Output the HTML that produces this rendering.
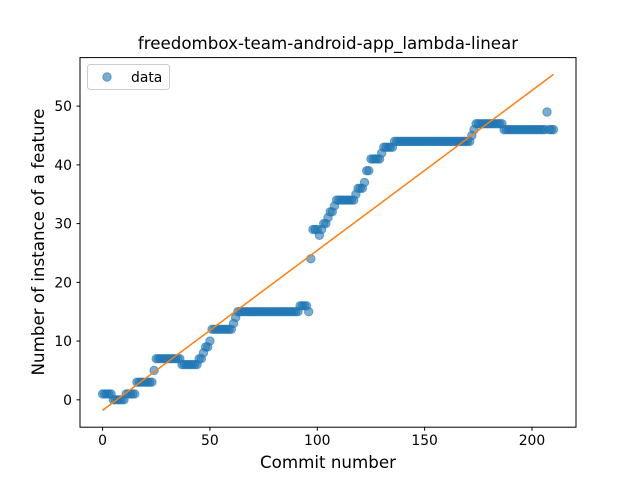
<!DOCTYPE html>
<html><head><meta charset="utf-8"><style>
body{margin:0;background:#fff;}
svg{display:block;font-family:"DejaVu Sans","Liberation Sans",sans-serif;}
</style></head><body>
<svg id="chart" width="640" height="480" xmlns="http://www.w3.org/2000/svg">
<rect width="640" height="480" fill="#fff"/>
<text x="328" y="49" font-size="16.7" text-anchor="middle">freedombox-team-android-app_lambda-linear</text>
<g id="marks"></g>
<rect x="80" y="57.6" width="496" height="369.6" fill="none" stroke="#000" stroke-width="1"/>
<g id="xticks"></g>
<g id="yticks"></g>
<text x="328" y="468" font-size="16.7" text-anchor="middle">Commit number</text>
<text transform="translate(44,242) rotate(-90)" font-size="16.7" text-anchor="middle">Number of instance of a feature</text>
<g>
<rect x="87.5" y="64.5" width="82" height="25" rx="3" fill="#fff" fill-opacity="0.8" stroke="#ccc"/>
<circle cx="107" cy="77" r="4.2" fill="#1f77b4" fill-opacity="0.6" stroke="#1f77b4" stroke-opacity="0.6"/>
<text x="131" y="82" font-size="13.9">data</text>
</g>
</svg>
<script>
const xTicks=[0,50,100,150,200];
const yTicks=[0,10,20,30,40,50];
const steps=[[0,1],[5,0],[11,1],[16,3],[24,5],[25,7],[37,6],[45,7],[47,8],[48,9],[50,10],[51,12],[61,13],[62,14],[63,15],[92,16],[96,15],[97,24],[98,29],[101,28],[102,29],[103,30],[105,31],[106,32],[108,33],[109,34],[118,35],[119,36],[122,37],[123,39],[125,41],[130,42],[131,43],[136,44],[172,45],[173,46],[174,47],[187,46],[207,49],[208,46]];
const yValues=[];
for(let i=0;i<=210;i++){let v=0;for(const s of steps){if(i>=s[0])v=s[1];}yValues.push(v);}
const fitStart=-1.8, fitEnd=55.4;
const X0=-10.5,X1=220.5,Y0=-4.66,Y1=58.26;
function sx(v){return 80+(v-X0)/(X1-X0)*496;}
function sy(v){return 427.2-(v-Y0)/(Y1-Y0)*369.6;}
const NS="http://www.w3.org/2000/svg";
const marks=document.getElementById('marks');
yValues.forEach((v,i)=>{
 const c=document.createElementNS(NS,'circle');
 c.setAttribute('cx',sx(i));c.setAttribute('cy',sy(v));c.setAttribute('r',4.2);
 c.setAttribute('fill','#1f77b4');c.setAttribute('fill-opacity','0.6');
 c.setAttribute('stroke','#1f77b4');c.setAttribute('stroke-opacity','0.6');
 
 
 marks.appendChild(c);
});
const ln=document.createElementNS(NS,'line');
ln.setAttribute('x1',sx(0));ln.setAttribute('y1',sy(fitStart));
ln.setAttribute('x2',sx(210));ln.setAttribute('y2',sy(fitEnd));
ln.setAttribute('stroke','#ff7f0e');ln.setAttribute('stroke-width','1.5');


marks.appendChild(ln);
const xg=document.getElementById('xticks');
xTicks.forEach(t=>{
 const l=document.createElementNS(NS,'line');
 l.setAttribute('x1',sx(t));l.setAttribute('x2',sx(t));l.setAttribute('y1',427.2);l.setAttribute('y2',430.7);l.setAttribute('stroke','#000');
 
 
 xg.appendChild(l);
 const tx=document.createElementNS(NS,'text');
 tx.setAttribute('x',sx(t));tx.setAttribute('y',445);tx.setAttribute('font-size','13.9');tx.setAttribute('text-anchor','middle');
 tx.textContent=t;
 
 
 xg.appendChild(tx);
});
const yg=document.getElementById('yticks');
yTicks.forEach(t=>{
 const l=document.createElementNS(NS,'line');
 l.setAttribute('x1',76.5);l.setAttribute('x2',80);l.setAttribute('y1',sy(t));l.setAttribute('y2',sy(t));l.setAttribute('stroke','#000');
 
 
 yg.appendChild(l);
 const tx=document.createElementNS(NS,'text');
 tx.setAttribute('x',72);tx.setAttribute('y',sy(t)+5);tx.setAttribute('font-size','13.9');tx.setAttribute('text-anchor','end');
 tx.textContent=t;
 
 
 yg.appendChild(tx);
});
</script>
</body></html>
